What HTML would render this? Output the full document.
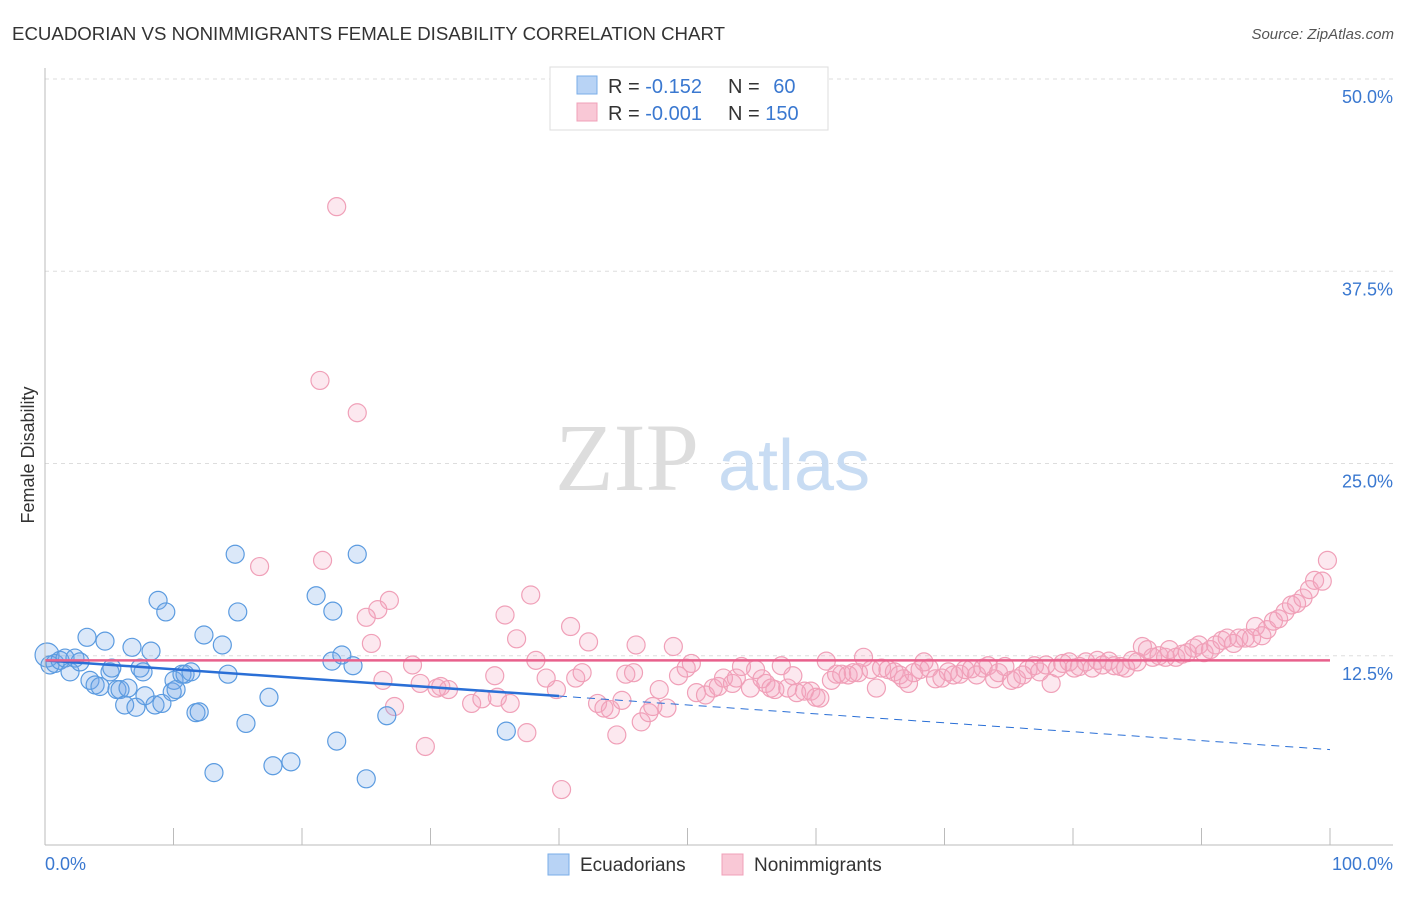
<!DOCTYPE html>
<html><head><meta charset="utf-8"><style>
body{margin:0;background:#fff;font-family:"Liberation Sans",sans-serif}
</style></head><body>
<svg width="1406" height="892" xmlns="http://www.w3.org/2000/svg">
<text x="12" y="40" font-size="18" fill="#333" textLength="713" lengthAdjust="spacingAndGlyphs">ECUADORIAN VS NONIMMIGRANTS FEMALE DISABILITY CORRELATION CHART</text>
<text x="1394" y="39" font-size="15" fill="#555" text-anchor="end" font-style="italic">Source: ZipAtlas.com</text>
<g id="grid"></g>
<text x="555" y="490" font-size="96" fill="#ddd" font-family="Liberation Serif">ZIP</text>
<text x="718" y="490" font-size="72" fill="#c8dcf3">atlas</text>
<g id="pts"></g>
<g id="axes"></g>
<text transform="translate(34,455) rotate(-90)" font-size="18" fill="#333" text-anchor="middle">Female Disability</text>
<g>
<rect x="550" y="67" width="278" height="63" fill="#fff" stroke="#ddd"/>
<rect x="577" y="76" width="20" height="18" fill="#b8d3f5" stroke="#7aaee8"/>
<rect x="577" y="103" width="20" height="18" fill="#f9c8d6" stroke="#f0a0b8"/>
<text x="608" y="93" font-size="20" fill="#333">R = <tspan fill="#3a78d0">-0.152</tspan></text>
<text x="728" y="93" font-size="20" fill="#333">N = <tspan fill="#3a78d0" dx="8">60</tspan></text>
<text x="608" y="120" font-size="20" fill="#333">R = <tspan fill="#3a78d0">-0.001</tspan></text>
<text x="728" y="120" font-size="20" fill="#333">N = <tspan fill="#3a78d0">150</tspan></text>
</g>
<g>
<rect x="548" y="854" width="21" height="21" fill="#b8d3f5" stroke="#7aaee8"/>
<text x="580" y="871" font-size="19" fill="#333">Ecuadorians</text>
<rect x="722" y="854" width="21" height="21" fill="#f9c8d6" stroke="#f0a0b8"/>
<text x="754" y="871" font-size="19" fill="#333">Nonimmigrants</text>
</g>
</svg>
<script>
const yTicks=[12.5,25,37.5,50];
const yTickLabels=["12.5%","25.0%","37.5%","50.0%"];
const xTicks=[0,10,20,30,40,50,60,70,80,90,100];
const blueX=[0.16,0.39,0.78,1.17,1.56,1.95,2.33,2.72,3.27,3.5,3.9,4.28,4.67,5.06,5.2,5.6,5.84,6.2,6.46,6.77,7.08,7.4,7.63,7.78,8.25,8.56,8.8,9.1,9.4,9.9,10.04,10.2,10.66,10.9,11.36,11.75,12.0,12.37,13.15,13.8,14.24,14.8,15.0,15.64,17.43,17.74,19.14,21.1,22.33,22.4,22.7,23.1,23.97,24.3,25.0,26.6,35.9];
const blueY=[12.55,11.9,12.0,12.2,12.35,11.45,12.35,12.1,13.7,10.9,10.6,10.5,13.45,11.45,11.7,10.3,10.3,9.3,10.4,13.05,9.15,11.7,11.45,9.9,12.8,9.3,16.1,9.4,15.35,10.15,10.9,10.3,11.3,11.3,11.45,8.8,8.85,13.85,4.9,13.2,11.3,19.1,15.35,8.1,9.8,5.35,5.6,16.4,12.15,15.4,6.95,12.55,11.85,19.1,4.5,8.6,7.6];
const pinkX=[22.7,21.4,24.3,16.7,21.6,37.8,26.8,25.9,25.0,35.8,40.9,36.7,42.3,25.4,48.9,46.0,28.6,35.0,38.2,26.3,29.2,30.5,30.8,31.4,33.2,34.0,35.2,36.2,27.2,39.8,39.0,41.3,41.8,43.0,43.5,44.0,44.9,45.2,45.8,46.4,47.0,47.3,47.8,48.4,44.5,37.5,29.6,40.2,49.3,49.9,50.3,50.7,51.4,52.0,52.4,52.8,53.5,53.8,54.2,54.9,55.3,55.8,56.1,56.5,56.8,57.3,57.8,58.2,58.5,59.1,59.6,60.0,60.3,60.8,61.2,61.6,62.0,62.5,62.9,63.3,63.7,64.3,64.7,65.1,65.6,66.1,66.5,66.8,67.2,67.6,68.1,68.4,68.8,69.3,69.8,70.3,70.7,71.2,71.6,72.1,72.5,73.0,73.4,73.9,74.2,74.7,75.2,75.6,76.1,76.5,77.0,77.4,77.9,78.3,78.8,79.2,79.7,80.1,80.5,81.0,81.5,81.9,82.3,82.8,83.2,83.7,84.1,84.6,85.0,85.4,85.8,86.2,86.7,87.2,87.5,88.0,88.5,88.9,89.4,89.8,90.2,90.7,91.1,91.6,92.0,92.5,92.9,93.4,93.9,94.2,94.7,95.1,95.6,96.0,96.5,97.0,97.4,97.9,98.4,98.8,99.4,99.8];
const pinkY=[41.7,30.4,28.3,18.3,18.7,16.45,16.1,15.5,15.0,15.15,14.4,13.6,13.4,13.3,13.1,13.2,11.9,11.2,12.2,10.9,10.7,10.4,10.5,10.3,9.4,9.7,9.8,9.4,9.2,10.3,11.05,11.05,11.4,9.4,9.1,9.0,9.6,11.3,11.4,8.2,8.8,9.2,10.3,9.1,7.35,7.5,6.6,3.8,11.2,11.7,12.0,10.1,9.95,10.4,10.5,11.05,10.7,11.05,11.8,10.4,11.6,11.0,10.7,10.4,10.3,11.85,10.4,11.2,10.1,10.2,10.2,9.8,9.75,12.15,10.9,11.3,11.3,11.25,11.4,11.4,12.4,11.6,10.4,11.7,11.6,11.45,11.25,11.0,10.7,11.4,11.6,12.1,11.7,11.0,11.05,11.45,11.25,11.3,11.6,11.65,11.25,11.7,11.85,11.0,11.4,11.8,10.9,11.0,11.25,11.6,11.85,11.45,11.9,10.7,11.7,12.0,12.1,11.7,11.8,12.1,11.7,12.2,11.9,12.15,11.85,11.8,11.7,12.2,12.1,13.1,12.9,12.4,12.5,12.4,12.9,12.4,12.6,12.7,13.0,13.2,12.7,12.9,13.2,13.5,13.65,13.3,13.65,13.65,13.65,14.4,13.8,14.2,14.75,14.9,15.35,15.8,15.9,16.25,16.8,17.4,17.35,18.7];
const blueTrend=[12.2,6.4];
const pinkTrend=[12.2,12.2];
const NS="http://www.w3.org/2000/svg";
const X=p=>45+p*12.85, Y=v=>848-v*15.38;
function mk(t,a,parent){const e=document.createElementNS(NS,t);for(const k in a)e.setAttribute(k,a[k]);parent.appendChild(e);return e;}
const grid=document.getElementById('grid'),axes=document.getElementById('axes'),pts=document.getElementById('pts');
yTicks.forEach((v,i)=>{
 const l=mk('line',{x1:45,x2:1393,y1:Y(v),y2:Y(v),stroke:'#ddd','stroke-dasharray':'4,4'},grid);
 
 
 const t=mk('text',{x:1393,y:Y(v)+24,'font-size':18,fill:'#3a78d0','text-anchor':'end'},axes);
 t.textContent=yTickLabels[i];
 
 
});
mk('line',{x1:45,x2:45,y1:68,y2:845,stroke:'#bbb'},axes);
mk('line',{x1:45,x2:1393,y1:845,y2:845,stroke:'#bbb'},axes);
xTicks.forEach(p=>{const l=mk('line',{x1:X(p),x2:X(p),y1:828,y2:845,stroke:'#bbb'},axes);
 
 });
const t0=mk('text',{x:45,y:870,'font-size':18,fill:'#3a78d0'},axes);t0.textContent='0.0%';


const t1=mk('text',{x:1393,y:870,'font-size':18,fill:'#3a78d0','text-anchor':'end'},axes);t1.textContent='100.0%';


pinkX.forEach((p,i)=>{const c=mk('circle',{cx:X(p),cy:Y(pinkY[i]),r:9,fill:'rgba(245,165,192,0.25)',stroke:'#f0a0b8','stroke-width':1.2},pts);
 
 });
blueX.forEach((p,i)=>{const c=mk('circle',{cx:X(p),cy:Y(blueY[i]),r:i==0?12:9,fill:'rgba(110,165,230,0.25)',stroke:'#5b9be0','stroke-width':1.2},pts);
 
 });
const bv=p=>blueTrend[0]+(blueTrend[1]-blueTrend[0])*p/100;
const b1=mk('line',{x1:X(0),y1:Y(bv(0)),x2:X(40),y2:Y(bv(40)),stroke:'#2a6fd6','stroke-width':2.5},pts);


const b2=mk('line',{x1:X(40),y1:Y(bv(40)),x2:X(100),y2:Y(bv(100)),stroke:'#2a6fd6','stroke-width':1,'stroke-dasharray':'8,6'},pts);


const pl=mk('line',{x1:X(0),y1:Y(pinkTrend[0]),x2:X(100),y2:Y(pinkTrend[1]),stroke:'#e8608c','stroke-width':2.5},pts);


</script>
</body></html>
